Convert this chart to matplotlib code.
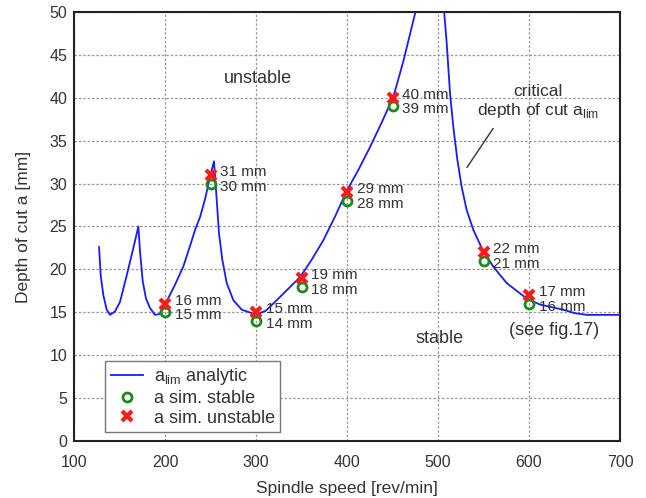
import matplotlib
matplotlib.use('Agg')
import matplotlib.pyplot as plt

plt.rcParams['font.family'] = ['Liberation Sans', 'DejaVu Sans']
plt.rcParams['mathtext.fontset'] = 'custom'
plt.rcParams['mathtext.rm'] = 'Liberation Sans'

# analytic stability limit
speed = [127.5, 129.3, 132.2, 135.9, 139.6, 145, 150.5, 157.9, 165.2, 170.7, 172.5,
         175.5, 179.1, 183.5, 189, 194.5, 200, 210, 220, 228, 233, 238.5, 244, 249.5,
         253.8, 256.8, 259.3, 263, 267.8, 275.1, 284.3, 295.3, 300, 311, 322.7, 335,
         348.4, 361, 374, 387, 400.4, 412, 425, 438, 450.9, 462, 474.7, 480, 490,
         498, 503, 506.6, 509.5, 513.2, 516.8, 521.2, 526, 531.5, 538.8, 548, 560.8,
         575.5, 597.5, 612, 637.7, 650, 663.4, 700]
a_lim = [22.6, 19.3, 17.0, 15.3, 14.7, 15.1, 16.2, 19.3, 22.5, 25.0, 22.1,
         18.6, 16.6, 15.5, 14.7, 14.8, 15.9, 18.0, 20.3, 22.9, 24.6, 26.1, 28.2, 30.8,
         32.6, 28.1, 24.2, 21.1, 18.4, 16.4, 15.3, 14.9, 14.7, 15.2, 16.4, 17.7,
         19.1, 21.1, 23.4, 26.2, 29.3, 31.5, 34.2, 37.1, 40.1, 44.3, 49.8, 53, 57,
         57.5, 54, 50.2, 46.4, 40.5, 36.6, 32.8, 29.6, 26.9, 24.6, 22.5, 20.3,
         18.4, 16.6, 15.9, 15.3, 14.9, 14.7, 14.7]

# simulation results
sim_speed = [200, 250, 300, 350, 400, 450, 550, 600]
sim_stable = [15, 30, 14, 18, 28, 39, 21, 16]
sim_unstable = [16, 31, 15, 19, 29, 40, 22, 17]

txt = '#333333'

fig = plt.figure(figsize=(6.46, 4.98), dpi=100)
ax = fig.add_axes([0.1146, 0.1145, 0.8452, 0.8614])

ax.plot(speed, a_lim, color='#1a1aff', lw=1.3, label=r'a$_{\rm lim}$ analytic', zorder=3)
ax.plot(sim_speed, sim_stable, 'o', ls='none', mfc='none', mec='#1a8a1a', mew=2, ms=6.5,
        label='a sim. stable', zorder=4)
ax.plot(sim_speed, sim_unstable, 'x', ls='none', color='#ff1a1a', mew=3, ms=7,
        label='a sim. unstable', zorder=5)

for s, v in zip(sim_speed, sim_unstable):
    ax.annotate('%d mm' % v, (s, v), xytext=(7, 2.2), textcoords='offset points',
                va='center', ha='left', fontsize=11, color=txt, zorder=6)
for s, v in zip(sim_speed, sim_stable):
    ax.annotate('%d mm' % v, (s, v), xytext=(7, -2.2), textcoords='offset points',
                va='center', ha='left', fontsize=11, color=txt, zorder=6)

ax.text(302, 42.3, 'unstable', ha='center', va='center', fontsize=13, color=txt)
ax.text(502, 11.9, 'stable', ha='center', va='center', fontsize=13, color=txt)
ax.text(628, 12.9, '(see fig.17)', ha='center', va='center', fontsize=13, color=txt)
ax.text(610, 39.5, 'critical\n' + r'depth of cut a$_{\rm lim}$', ha='center', va='center',
        fontsize=12.5, color=txt, linespacing=1.1)
ax.plot([560.4, 531.9], [36.4, 31.9], color='#333333', lw=1)

ax.set_xlim(100, 700)
ax.set_ylim(0, 50)
ax.set_xticks(range(100, 701, 100))
ax.set_yticks(range(0, 51, 5))
ax.grid(True, color='#999999', ls=(0, (2, 1.5)), lw=0.9)
ax.set_axisbelow(True)
ax.tick_params(direction='in', length=0, labelsize=11.5, labelcolor=txt)
ax.tick_params(axis='x', pad=10)
ax.tick_params(axis='y', pad=5)
for sp in ax.spines.values():
    sp.set_linewidth(1.5)
    sp.set_color('#222222')

ax.set_xlabel('Spindle speed [rev/min]', fontsize=12.5, color=txt, labelpad=8)
ax.set_ylabel('Depth of cut a [mm]', fontsize=12.5, color=txt, labelpad=13)

leg = ax.legend(loc='lower left', bbox_to_anchor=(0.057, 0.021), borderaxespad=0,
                fontsize=13, fancybox=False, framealpha=1, edgecolor='#777777',
                handlelength=1.8, borderpad=0.3, labelspacing=0.15, handletextpad=0.6)
for t in leg.get_texts():
    t.set_color(txt)

fig.savefig('out.png', dpi=100)
